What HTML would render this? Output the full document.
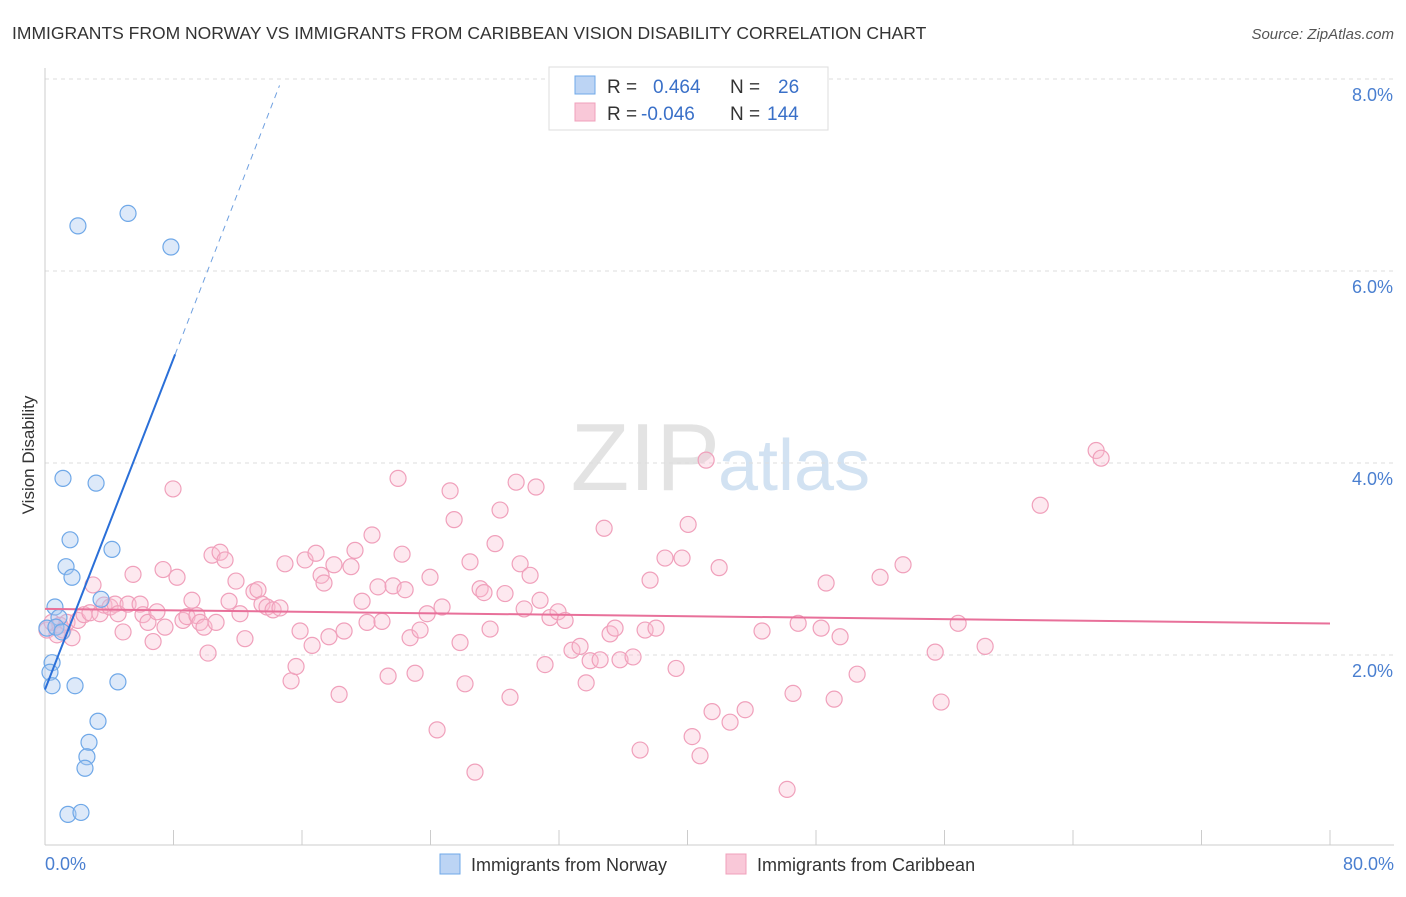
<!DOCTYPE html>
<html><head><meta charset="utf-8"><style>
body{margin:0;background:#fff;font-family:"Liberation Sans",sans-serif;}
svg text{font-family:"Liberation Sans",sans-serif;}
</style></head><body>
<svg id="c" width="1406" height="892" xmlns="http://www.w3.org/2000/svg">
<text x="12" y="39" font-size="17.5" fill="#333">IMMIGRANTS FROM NORWAY VS IMMIGRANTS FROM CARIBBEAN VISION DISABILITY CORRELATION CHART</text>
<text x="1394" y="39" font-size="15" fill="#555" font-style="italic" text-anchor="end">Source: ZipAtlas.com</text>
<text x="720" y="490" font-size="96" fill="#ddd" text-anchor="end" font-family="Liberation Serif" opacity="0.8">ZIP</text>
<text x="718" y="490" font-size="72" fill="#c7dbf0" opacity="0.8">atlas</text>
<text transform="translate(34,455) rotate(-90)" font-size="17" fill="#333" text-anchor="middle">Vision Disability</text>
<g id="grid"></g><g id="axes"></g><g id="marks"></g>
<g>
<rect x="549" y="67" width="279" height="63" fill="#fff" stroke="#ddd"/>
<rect x="575" y="76" width="20" height="18" fill="#bcd4f4" stroke="#6fa8e8"/>
<rect x="575" y="103" width="20" height="18" fill="#f9c8d8" stroke="#f0a0bb"/>
<text x="607" y="93" font-size="19" fill="#333">R = <tspan fill="#3a70c8" x="653">0.464</tspan><tspan x="730" fill="#333">N = </tspan><tspan fill="#3a70c8" x="778">26</tspan></text>
<text x="607" y="120" font-size="19" fill="#333">R = <tspan fill="#3a70c8" x="641">-0.046</tspan><tspan x="730" fill="#333">N = </tspan><tspan fill="#3a70c8" x="767">144</tspan></text>
</g>
<g>
<rect x="440" y="854" width="20" height="20" fill="#bcd4f4" stroke="#6fa8e8"/>
<text x="471" y="871" font-size="18" fill="#333">Immigrants from Norway</text>
<rect x="726" y="854" width="20" height="20" fill="#f9c8d8" stroke="#f0a0bb"/>
<text x="757" y="871" font-size="18" fill="#333">Immigrants from Caribbean</text>
</g>
</svg>
<script>
const norwayX=[2.05,5.17,7.84,1.12,3.18,1.56,4.17,1.31,1.68,3.49,0.62,0.87,0.12,0.68,1.06,0.44,0.31,0.44,1.87,4.54,3.30,2.74,2.61,2.49,1.43,2.24];
const norwayY=[6.47,6.60,6.25,3.84,3.79,3.20,3.10,2.92,2.81,2.58,2.50,2.39,2.28,2.29,2.24,1.92,1.82,1.68,1.68,1.72,1.31,1.09,0.94,0.82,0.34,0.36];
const caribX=[0.12,0.44,0.75,0.93,1.12,1.37,1.68,2.05,2.43,2.80,2.99,3.42,3.67,4.05,4.36,4.55,4.86,5.17,5.48,5.92,6.10,6.41,6.73,6.97,7.35,7.47,7.97,8.22,8.59,8.84,9.15,9.46,9.65,9.90,10.15,10.40,10.65,10.90,11.21,11.46,11.89,12.14,12.45,13.01,13.26,13.51,13.82,14.20,14.63,14.94,15.32,15.63,15.88,16.19,16.63,16.87,17.19,17.37,17.68,17.99,18.31,18.62,19.05,19.30,19.74,20.05,20.36,20.73,20.98,21.36,21.67,21.98,22.23,22.42,22.73,23.04,23.35,23.79,23.97,24.41,24.72,25.22,25.47,25.84,26.15,26.46,26.77,27.09,27.33,27.71,28.02,28.33,28.64,28.95,29.33,29.58,29.83,30.20,30.57,30.82,31.13,31.44,31.94,32.38,32.81,33.31,33.69,33.94,34.56,34.81,35.18,35.49,35.80,36.61,37.05,37.36,37.67,38.04,38.60,39.29,39.66,40.04,40.29,40.78,41.16,41.53,41.97,42.65,43.59,44.64,46.20,46.57,46.89,48.32,48.63,49.13,49.50,50.56,51.99,53.42,55.42,55.79,56.85,58.53,61.96,65.44,65.75];
const caribY=[2.26,2.34,2.21,2.31,2.26,2.34,2.18,2.36,2.42,2.44,2.73,2.43,2.52,2.50,2.53,2.43,2.24,2.53,2.84,2.53,2.42,2.34,2.14,2.45,2.89,2.29,3.73,2.81,2.36,2.40,2.57,2.41,2.34,2.29,2.02,3.04,2.34,3.07,2.99,2.56,2.77,2.43,2.17,2.66,2.68,2.53,2.50,2.47,2.49,2.95,1.73,1.88,2.25,2.99,2.10,3.06,2.83,2.75,2.19,2.94,1.59,2.25,2.92,3.09,2.56,2.34,3.25,2.71,2.35,1.78,2.72,3.84,3.05,2.68,2.18,1.81,2.26,2.43,2.81,1.22,2.50,3.71,3.41,2.13,1.70,2.97,0.78,2.69,2.65,2.27,3.16,3.51,2.64,1.56,3.80,2.95,2.48,2.83,3.75,2.57,1.90,2.39,2.45,2.36,2.05,2.09,1.71,1.94,1.95,3.32,2.22,2.28,1.95,1.98,1.01,2.26,2.78,2.28,3.01,1.86,3.01,3.36,1.15,0.95,4.03,1.41,2.91,1.30,1.43,2.25,0.60,1.60,2.33,2.28,2.75,1.54,2.19,1.80,2.81,2.94,2.03,1.51,2.33,2.09,3.56,4.13,4.05];
const yTicks=[2,4,6,8];
const yTickLabels=["2.0%","4.0%","6.0%","8.0%"];
const xTickVals=[0,8,16,24,32,40,48,56,64,72,80];
const norwayTrend=[1.64,0.431]; // intercept, slope
const caribTrend=[2.48,-0.0019];
const X=v=>45+v*1285/80, Y=v=>847-v*96;
const NS="http://www.w3.org/2000/svg";
function mk(t,a,p){const e=document.createElementNS(NS,t);for(const k in a)e.setAttribute(k,a[k]);p.appendChild(e);return e;}
const grid=document.getElementById('grid'),axes=document.getElementById('axes'),marks=document.getElementById('marks');
yTicks.forEach((v,i)=>{
 const l=mk('line',{x1:45,x2:1394,y1:Y(v),y2:Y(v),stroke:'#ddd','stroke-dasharray':'4,4'},grid);
 
 
 const t=mk('text',{x:1393,y:Y(v)+22,'font-size':18,fill:'#4a7fd0','text-anchor':'end'},axes);t.textContent=yTickLabels[i];
 
 
});
const tg=mk('line',{x1:45,x2:1394,y1:79,y2:79,stroke:'#ddd','stroke-dasharray':'4,4'},grid);


const ax=mk('line',{x1:45,x2:1394,y1:845,y2:845,stroke:'#ccc'},axes);


const ay=mk('line',{x1:45,x2:45,y1:68,y2:845,stroke:'#ccc'},axes);


xTickVals.forEach(v=>{const l=mk('line',{x1:X(v),x2:X(v),y1:830,y2:845,stroke:'#ccc'},axes);
 
 });
[[0,"0.0%",'start',45],[80,"80.0%",'end',1394]].forEach(a=>{const t=mk('text',{x:a[3],y:870,'font-size':18,fill:'#4a7fd0','text-anchor':a[2]},axes);t.textContent=a[1];
 
 });
caribX.forEach((x,i)=>{const c=mk('circle',{cx:X(x),cy:Y(caribY[i]),r:8,fill:'rgba(248,190,210,0.35)',stroke:'#f0a0bb','stroke-width':1.2},marks);
 
 });
norwayX.forEach((x,i)=>{const c=mk('circle',{cx:X(x),cy:Y(norwayY[i]),r:8,fill:'rgba(170,200,240,0.4)',stroke:'#6fa8e8','stroke-width':1.2},marks);
 
 });
const cl=mk('line',{x1:X(0),y1:Y(caribTrend[0]),x2:X(80),y2:Y(caribTrend[0]+caribTrend[1]*80),stroke:'#e8709a','stroke-width':2},marks);


const nl=mk('line',{x1:X(0),y1:Y(norwayTrend[0]),x2:X(8.1),y2:Y(norwayTrend[0]+norwayTrend[1]*8.1),stroke:'#2a6fd8','stroke-width':2},marks);


const nd=mk('line',{x1:X(8.1),y1:Y(norwayTrend[0]+norwayTrend[1]*8.1),x2:X(14.6),y2:Y(norwayTrend[0]+norwayTrend[1]*14.6),stroke:'#6fa0e0','stroke-width':1,'stroke-dasharray':'6,5'},marks);


</script>
</body></html>
